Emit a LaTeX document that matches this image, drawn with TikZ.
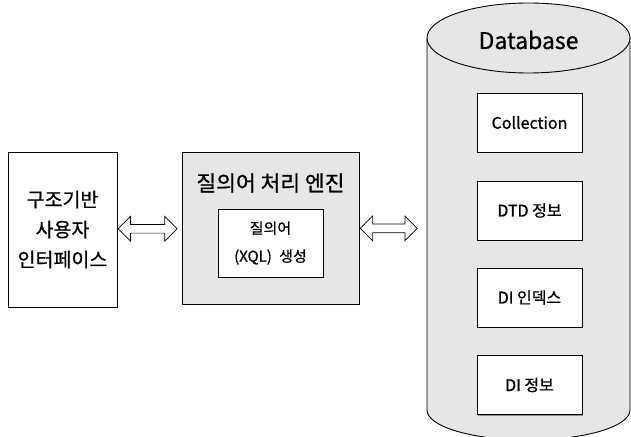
\documentclass[tikz,border=0pt]{standalone}
\usepackage{fontspec}
\setmainfont[FakeBold=0.8]{Noto Sans CJK KR}
\usetikzlibrary{shapes.arrows,shadows,calc}
\definecolor{boxgray}{HTML}{E6E6E6}
\tikzset{
  box/.style={draw=black, line width=0.9pt, rectangle, inner sep=0pt, align=center,
    drop shadow={shadow xshift=1.2pt, shadow yshift=-1.2pt, fill=black!45, opacity=1}},
  whitebox/.style={box, fill=white},
  graybox/.style={box, fill=boxgray},
  dbbox/.style={whitebox, minimum width=105pt, minimum height=59pt, font=\fontsize{16}{20}\selectfont},
  dblarrow/.style={double arrow, draw=black, fill=white, line width=0.7pt,
    minimum width=24pt, double arrow head extend=8pt, inner xsep=0pt, inner ysep=4pt}
}
\begin{document}
\begin{tikzpicture}[x=1pt,y=1pt]
\useasboundingbox (0,0) rectangle (631,436);
\clip (0,0) rectangle (631,436);
% left box
\node[whitebox, minimum width=109pt, minimum height=155pt, font=\fontsize{19.5}{30}\selectfont] (ui) at (62.5,206.5) {구조기반\\사용자\\인터페이스};
% middle box
\node[graybox, minimum width=177pt, minimum height=152pt] (eng) at (270.5,208) {};
\node[font=\fontsize{21.5}{24}\selectfont, inner sep=0pt] (engt) at (270.5,253) {질의어 처리 엔진};
\node[whitebox, minimum width=105pt, minimum height=68pt, font=\fontsize{15}{28}\selectfont] (xql) at (270.5,193) {질의어\\(XQL)\hspace{4pt} 생성};
% database cylinder
\filldraw[fill=boxgray, draw=black, line width=0.9pt]
  (427,398) -- (427,26) arc[start angle=180, end angle=360, x radius=101.5, y radius=30] -- (630,398);
\filldraw[fill=boxgray, draw=black, line width=0.9pt] (528.5,398) ellipse [x radius=101.5, y radius=35];
\node[font=\fontsize{23}{26}\selectfont, inner sep=0pt] (dbt) at (528.5,396) {Database};
\coordinate (dbw) at (427,207);
\node[dbbox] (col) at (529.5,313.5) {Collection};
\node[dbbox] (dtd) at (529.5,225.5) {DTD 정보};
\node[dbbox] (dii) at (529.5,138.5) {DI 인덱스};
\node[dbbox] (dij) at (529.5,51) {DI 정보};
% arrows
\path (ui.east) -- (eng.west) node[dblarrow, pos=0.47, minimum height=59pt] (a1) {};
\path (eng.east) -- (dbw) node[dblarrow, pos=0.434, minimum height=57pt] (a2) {};
\end{tikzpicture}
\end{document}
